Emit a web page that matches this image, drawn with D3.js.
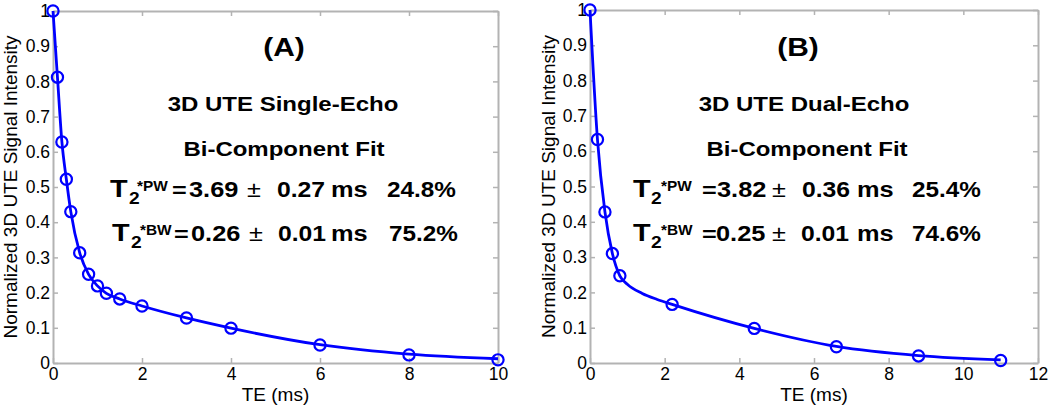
<!DOCTYPE html>
<html>
<head>
<meta charset="utf-8">
<script src="https://cdn.jsdelivr.net/npm/d3@7"></script>
<style>
  body { margin: 0; background: #fff; }
  svg { display: block; font-family: "Liberation Sans", Arial, sans-serif; }
</style>
</head>
<body>
<div id="view"></div>
<script>
// ---- data ----
// (A) 3D UTE single-echo
const teA  = [0, 0.1, 0.2, 0.3, 0.4, 0.6, 0.8, 1.0, 1.2, 1.5, 2, 3, 4, 6, 8, 10];
const sigA = [1.0, 0.812, 0.628, 0.522, 0.43, 0.313, 0.252, 0.219, 0.198, 0.182, 0.162, 0.128, 0.099, 0.051, 0.023, 0.009];
const fitTeA  = [0, 0.1, 0.2, 0.3, 0.4, 0.6, 0.8, 1.0, 1.2, 1.5, 2, 3, 4, 6, 8, 10];
const fitSigA = [1.0, 0.812, 0.628, 0.522, 0.43, 0.313, 0.252, 0.219, 0.198, 0.182, 0.162, 0.128, 0.099, 0.052, 0.025, 0.012];

// (B) 3D UTE dual-echo
const teB  = [0, 0.2, 0.4, 0.6, 0.8, 2.2, 4.4, 6.6, 8.8, 11];
const sigB = [1.0, 0.633, 0.428, 0.31, 0.247, 0.166, 0.098, 0.046, 0.020, 0.007];
const fitTeB  = [0, 0.2, 0.4, 0.6, 0.8, 1.0, 1.4, 1.8, 2.2, 4.4, 6.6, 8.8, 11];
const fitSigB = [1.0, 0.633, 0.428, 0.31, 0.247, 0.223, 0.197, 0.180, 0.166, 0.098, 0.047, 0.021, 0.009];

const yTicks = [0, 0.1, 0.2, 0.3, 0.4, 0.5, 0.6, 0.7, 0.8, 0.9, 1];
const yTickLabels = ["0", "0.1", "0.2", "0.3", "0.4", "0.5", "0.6", "0.7", "0.8", "0.9", "1"];
const xTicksA = [0, 2, 4, 6, 8, 10];
const xTicksB = [0, 2, 4, 6, 8, 10, 12];

const yLabel = "Normalized 3D UTE Signal Intensity";
const xLabel = "TE (ms)";

const titlesA = ["(A)", "3D UTE Single-Echo", "Bi-Component Fit"];
const titlesB = ["(B)", "3D UTE Dual-Echo", "Bi-Component Fit"];
const pwA = ["3.69", "0.27", "24.8%"];
const bwA = ["0.26", "0.01", "75.2%"];
const pwB = ["3.82", "0.36", "25.4%"];
const bwB = ["0.25", "0.01", "74.6%"];

// ---- drawing ----
const W = 1050, H = 410;
const gray = "#b3b3b3";
const blue = "#0000ff";

const svg = d3.select("#view").append("svg")
    .attr("width", W)
    .attr("height", H);

function styleAxis(sel) {
    sel.attr("font-family", null).attr("font-size", null);
    sel.select(".domain").attr("stroke", gray).attr("stroke-width", 2);
    sel.selectAll(".tick line").attr("stroke", gray).attr("stroke-width", 1.5);
    sel.selectAll(".tick text").attr("fill", "#000").style("font-size", "17.5px");
}

function stretchedText(g, str, x, y, size, sx, anchor, weight) {
    g.append("text")
        .attr("transform", `translate(${x},${y}) scale(${sx},1)`)
        .attr("text-anchor", anchor)
        .attr("font-weight", weight)
        .style("font-size", size + "px")
        .attr("fill", "#000")
        .text(str);
}

// one line like  T2*PW = 3.69 ± 0.27 ms   24.8%
function t2Line(g, sup, vals, base, xs) {
    stretchedText(g, "T", xs[0], base, 24, 1.2, "start", "bold");
    stretchedText(g, "2", xs[1], base + 7, 16, 1.2, "start", "bold");
    stretchedText(g, "*" + sup, xs[2], base - 6, 14, 1.1, "start", "bold");
    stretchedText(g, "=", xs[3], base, 21, 1.2, "start", "bold");
    stretchedText(g, vals[0], xs[4], base, 21.5, 1.18, "start", "bold");
    stretchedText(g, "\u00b1", xs[5], base, 22, 1.15, "start", "normal");
    stretchedText(g, vals[1], xs[6], base, 21.5, 1.15, "start", "bold");
    stretchedText(g, "ms", xs[7], base, 21.5, 1.18, "start", "bold");
    stretchedText(g, vals[2], xs[8], base, 21.5, 1.13, "start", "bold");
}

function panel(cfg) {
    const g = svg.append("g");

    const x = d3.scaleLinear().domain(cfg.xDomain).range([cfg.left, cfg.right]);
    const y = d3.scaleLinear().domain([0, 1]).range([cfg.bottom, cfg.top]);

    // box axes, ticks pointing inward
    g.append("g")
        .attr("transform", `translate(0,${cfg.bottom})`)
        .call(d3.axisBottom(x).tickValues(cfg.xTicks).tickFormat(d3.format("d"))
            .tickSizeInner(-5).tickSizeOuter(0).tickPadding(5))
        .call(styleAxis);
    g.append("g")
        .attr("transform", `translate(0,${cfg.top})`)
        .call(d3.axisTop(x).tickValues(cfg.xTicks).tickFormat("")
            .tickSizeInner(-5).tickSizeOuter(0))
        .call(styleAxis);
    g.append("g")
        .attr("transform", `translate(${cfg.left},0)`)
        .call(d3.axisLeft(y).tickValues(yTicks).tickFormat((d, i) => yTickLabels[i])
            .tickSizeInner(-5).tickSizeOuter(0).tickPadding(3))
        .call(styleAxis);
    g.append("g")
        .attr("transform", `translate(${cfg.right},0)`)
        .call(d3.axisRight(y).tickValues(yTicks).tickFormat("")
            .tickSizeInner(-5).tickSizeOuter(0))
        .call(styleAxis);

    // axis labels
    g.append("text")
        .attr("transform", `translate(${cfg.yLabelX},${(cfg.top + cfg.bottom) / 2}) rotate(-90)`)
        .attr("text-anchor", "middle")
        .style("font-size", "19px")
        .attr("fill", "#000")
        .text(yLabel);
    g.append("text")
        .attr("x", (cfg.left + cfg.right) / 2)
        .attr("y", 401)
        .attr("text-anchor", "middle")
        .style("font-size", "19px")
        .attr("fill", "#000")
        .text(xLabel);

    // fit curve
    const fit = cfg.fitTe.map((t, i) => [t, cfg.fitSig[i]]);
    const line = d3.line()
        .x(d => x(d[0]))
        .y(d => y(d[1]))
        .curve(d3.curveMonotoneX);
    g.append("path")
        .datum(fit)
        .attr("d", line)
        .attr("fill", "none")
        .attr("stroke", blue)
        .attr("stroke-width", 2.8);

    // measured points
    const pts = cfg.te.map((t, i) => [t, cfg.sig[i]]);
    g.selectAll("circle.pt")
        .data(pts)
        .enter()
        .append("circle")
        .attr("class", "pt")
        .attr("cx", d => x(d[0]))
        .attr("cy", d => y(d[1]))
        .attr("r", 5.6)
        .attr("fill", "none")
        .attr("stroke", blue)
        .attr("stroke-width", 2.2);

    // annotations
    stretchedText(g, cfg.titles[0], cfg.titleX[0], 56, 26, 1.15, "middle", "bold");
    stretchedText(g, cfg.titles[1], cfg.titleX[1], 111, 20, 1.2, "middle", "bold");
    stretchedText(g, cfg.titles[2], cfg.titleX[2], 156, 20, 1.2, "middle", "bold");
    t2Line(g, "PW", cfg.pw, 197, cfg.pwX);
    t2Line(g, "BW", cfg.bw, 241, cfg.bwX);
}

panel({
    left: 53, right: 498, top: 11, bottom: 363,
    xDomain: [0, 10], xTicks: xTicksA,
    te: teA, sig: sigA, fitTe: fitTeA, fitSig: fitSigA,
    yLabelX: 17,
    titles: titlesA, titleX: [284, 283, 284],
    pw: pwA, bw: bwA,
    pwX: [110, 129, 137, 172, 189, 247, 277, 331, 387],
    bwX: [112, 131, 140, 174, 191, 249, 278, 331, 389]
});

panel({
    left: 590, right: 1038, top: 10, bottom: 363,
    xDomain: [0, 12], xTicks: xTicksB,
    te: teB, sig: sigB, fitTe: fitTeB, fitSig: fitSigB,
    yLabelX: 555,
    titles: titlesB, titleX: [798, 804, 807],
    pw: pwB, bw: bwB,
    pwX: [633, 651, 661, 702, 717, 772, 802, 857, 912],
    bwX: [633, 651, 661, 702, 716, 772, 801, 857, 912]
});
</script>
</body>
</html>
